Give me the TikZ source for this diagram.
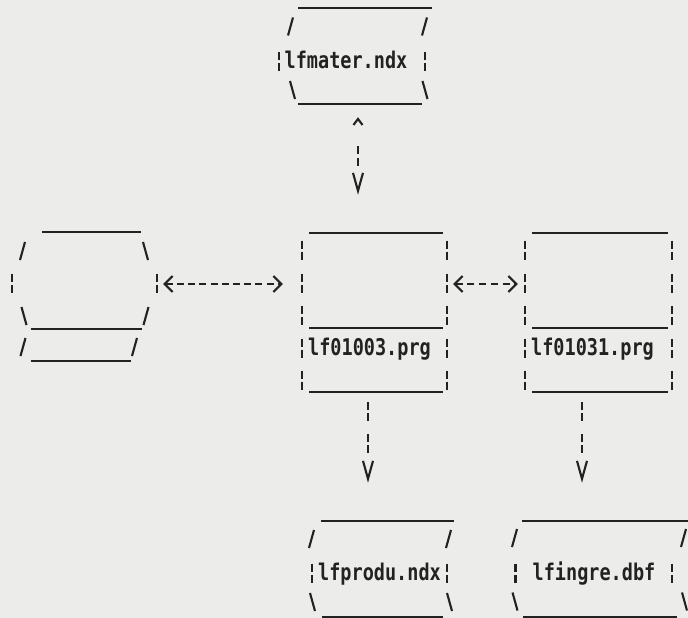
\documentclass[tikz,border=0pt]{standalone}
\usepackage{fontspec}
\usepackage{xcolor}
\usepackage{tikz}
\usetikzlibrary{arrows.meta}

\newfontfamily\dotfont[FakeStretch=0.805]{DejaVu Sans Mono}
\definecolor{papel}{RGB}{236,236,234}
\definecolor{tinta}{RGB}{34,34,34}

\begin{document}
\begin{tikzpicture}[
    x=1pt, y=-1pt,
    area/.style = {inner sep=0pt},
    fname/.style = {font=\dotfont\bfseries\fontsize{23}{23}\selectfont, text=tinta, anchor=base, inner sep=0pt},
    rule/.style = {draw=tinta, line width=2.6pt},
    stroke/.style = {draw=tinta, line width=2.1pt},
    link/.style = {draw=tinta, line width=2.1pt},
    tipcaret/.tip = {Straight Barb[length=6pt,width=9pt]},
    tipvee/.tip = {Straight Barb[length=18pt,width=10pt]},
    tipangle/.tip = {Straight Barb[length=8pt,width=16pt]},
    brkbar/.pic = {\draw[stroke] (0,-9.5) -- (0,-1.5) (0,1.5) -- (0,9.5);},
    fslash/.pic = {\draw[stroke] (-2.5,9) -- (2.5,-9);},
    bslash/.pic = {\draw[stroke] (-2.5,-9) -- (2.5,9);}
  ]

  % Fondo
  \fill[papel] (0,0) rectangle (688,618);
  \useasboundingbox (0,0) rectangle (688,618);

  % Nodos
  \node [area, minimum width=150pt, minimum height=96pt] (mater) at (358,56) {};
  \node [area, minimum width=145pt, minimum height=129pt] (archivo) at (84.5,296.5) {};
  \node [area, minimum width=145pt, minimum height=159pt] (prg1003) at (374.5,312.5) {};
  \node [area, minimum width=147pt, minimum height=159pt] (prg1031) at (598.5,312.5) {};
  \node [area, minimum width=144pt, minimum height=96pt] (produ) at (382,569) {};
  \node [area, minimum width=176pt, minimum height=96pt] (ingre) at (600,569) {};

  \node [fname] (tmater) at (346,69) {lfmater.ndx};
  \node [fname] (t1003) at (369.5,355) {lf01003.prg};
  \node [fname] (t1031) at (592.5,355) {lf01031.prg};
  \node [fname] (tprodu) at (379.5,580) {lfprodu.ndx};
  \node [fname] (tingre) at (594,580) {lfingre.dbf};

  % Contornos
  \draw[rule] (298,8) -- (432,8) (298,104) -- (422,104);
  \pic at (290.5,26.5) {fslash}; \pic at (424.5,26.5) {fslash};
  \pic at (279,62) {brkbar}; \pic at (425,62) {brkbar};
  \pic at (292.5,90) {bslash}; \pic at (425,90) {bslash};

  \draw[rule] (42,232) -- (141,232) (31,329) -- (142,329) (31,361) -- (131,361);
  \pic at (22.5,251) {fslash}; \pic at (145.5,251) {bslash};
  \pic at (12,283) {brkbar}; \pic at (157,283) {brkbar};
  \pic at (24,316) {bslash}; \pic at (146,316) {fslash};
  \pic at (23,347) {fslash}; \pic at (134.5,347) {fslash};

  \foreach \xa/\xb in {302/447, 525/672} {
    \draw[rule] (\xa+7,233) -- (\xb-4.5,233) (\xa+7,328) -- (\xb-4.5,328) (\xa+7,392) -- (\xb-4.5,392);
    \foreach \y in {250,283,315,348,380} {
      \pic at (\xa,\y) {brkbar}; \pic at (\xb,\y) {brkbar};
    }
  }

  \draw[rule] (321,521) -- (454,521) (322,617) -- (443,617);
  \pic at (311.5,539) {fslash}; \pic at (448.5,539) {fslash};
  \pic at (312,573) {brkbar}; \pic at (447,573) {brkbar};
  \pic at (312.5,602) {bslash}; \pic at (449.5,602) {bslash};

  \draw[rule] (522,521) -- (688,521) (523,617) -- (677,617);
  \pic at (514.5,538) {fslash}; \pic at (683.5,538) {fslash};
  \pic at (515.5,573) {brkbar}; \pic at (672,573) {brkbar};
  \pic at (515,601.5) {bslash}; \pic at (684.5,601.5) {bslash};

  % Conectores
  \draw [link, {tipcaret}-{tipvee}, shorten <=13pt, shorten >=38pt, dash pattern=on 8pt off 4pt on 8pt off 80pt, dash phase=74pt] (mater.south) -- (mater.south |- prg1003.north);
  \draw [link, -{tipvee}, shorten <=10pt, shorten >=38pt, dash pattern=on 8pt off 3pt on 8pt off 13pt on 8pt off 3pt on 8pt off 80pt] ([xshift=-6.5pt]prg1003.south) -- ([xshift=-6.5pt]prg1003.south |- produ.north);
  \draw [link, -{tipvee}, shorten <=10pt, shorten >=38pt, dash pattern=on 8pt off 3pt on 8pt off 13pt on 8pt off 3pt on 8pt off 80pt] ([xshift=-16.5pt]prg1031.south) -- ([xshift=-16.5pt]prg1031.south |- ingre.north);
  \draw [link, {tipangle}-{tipangle}, shorten <=6pt, shorten >=19pt, dash pattern=on 7pt off 4.2pt] ([yshift=12.5pt]archivo.east) -- ([yshift=28.5pt]prg1003.west);
  \draw [link, {tipangle}-{tipangle}, shorten <=6pt, shorten >=7pt, dash pattern=on 7pt off 4.7pt] ([yshift=28.5pt]prg1003.east) -- ([yshift=28.5pt]prg1031.west);
\end{tikzpicture}
\end{document}
